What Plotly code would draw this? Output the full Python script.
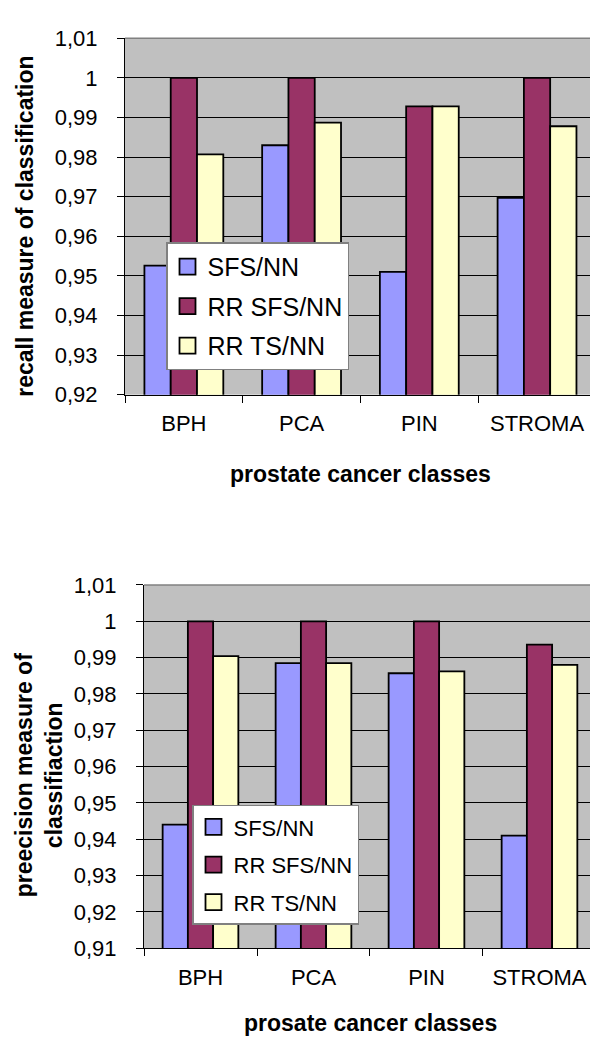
import plotly.graph_objects as go

categories = ["BPH", "PCA", "PIN", "STROMA"]
series_names = ["SFS/NN", "RR SFS/NN", "RR TS/NN"]
colors = ["#9999FF", "#993366", "#FFFFCC"]

recall_sfs = [0.9526, 0.983, 0.951, 0.9697]
recall_rr_sfs = [1.0, 1.0, 0.9928, 1.0]
recall_rr_ts = [0.9807, 0.9887, 0.9928, 0.9878]

prec_sfs = [0.944, 0.9885, 0.9857, 0.941]
prec_rr_sfs = [1.0, 1.0, 1.0, 0.9936]
prec_rr_ts = [0.9904, 0.9885, 0.9862, 0.988]

top_tickvals = [0.92, 0.93, 0.94, 0.95, 0.96, 0.97, 0.98, 0.99, 1.0, 1.01]
top_ticktext = ["0,92", "0,93", "0,94", "0,95", "0,96", "0,97", "0,98", "0,99", "1", "1,01"]
bot_tickvals = [0.91, 0.92, 0.93, 0.94, 0.95, 0.96, 0.97, 0.98, 0.99, 1.0, 1.01]
bot_ticktext = ["0,91", "0,92", "0,93", "0,94", "0,95", "0,96", "0,97", "0,98", "0,99", "1", "1,01"]

W, H = 590, 1048
FONT = "Liberation Sans, Arial, sans-serif"

fig = go.Figure()

top_series = [recall_sfs, recall_rr_sfs, recall_rr_ts]
bot_series = [prec_sfs, prec_rr_sfs, prec_rr_ts]

def add_panel(series, xa, ya, leg, tag):
    for i, (name, vals) in enumerate(zip(series_names, series)):
        fig.add_trace(go.Bar(
            x=categories, y=vals, name=name, xaxis=xa, yaxis=ya,
            marker=dict(color=colors[i], line=dict(color="black", width=1.8)),
            showlegend=False, hoverinfo="y",
        ))
    # legend entries with larger square swatches
    for i, name in enumerate(series_names):
        fig.add_trace(go.Scatter(
            x=[None], y=[None], name=name, xaxis=xa, yaxis=ya, mode="markers",
            marker=dict(symbol="square", size=16, color=colors[i],
                        line=dict(color="black", width=1.8)),
            legend=leg, legendgroup="%s%d" % (tag, i), showlegend=True,
        ))

add_panel(top_series, "x", "y", "legend", "t")
add_panel(bot_series, "x2", "y2", "legend2", "b")

def px_x(p):
    return p / W

def px_y(p):
    return 1 - p / H

axis_common = dict(
    showline=True, linecolor="black", linewidth=1,
    ticks="outside", ticklen=7, tickcolor="black",
    tickfont=dict(family=FONT, size=22, color="black"),
)

fig.update_layout(
    width=W, height=H,
    margin=dict(l=0, r=0, t=0, b=0),
    paper_bgcolor="white",
    plot_bgcolor="#C0C0C0",
    barmode="group",
    bargap=0.33,
    bargroupgap=0,
    font=dict(family=FONT, color="black"),
    xaxis=dict(
        domain=[px_x(125), 1], anchor="y", type="category", showgrid=False,
        range=[-0.5, 3.45], tickson="boundaries", ticklabelstandoff=9,
        **axis_common,
    ),
    yaxis=dict(
        domain=[px_y(392), px_y(27)], anchor="x",
        range=[0.92, 1.01], tickvals=top_tickvals, ticktext=top_ticktext,
        showgrid=True, gridcolor="black", gridwidth=1, ticklabelstandoff=15,
        **axis_common,
    ),
    xaxis2=dict(
        domain=[px_x(144), 1], anchor="y2", type="category", showgrid=False,
        range=[-0.5, 3.447], tickson="boundaries", ticklabelstandoff=9,
        **axis_common,
    ),
    yaxis2=dict(
        domain=[px_y(959), px_y(587)], anchor="x2",
        range=[0.91, 1.01], tickvals=bot_tickvals, ticktext=bot_ticktext,
        showgrid=True, gridcolor="black", gridwidth=1, ticklabelstandoff=15,
        **axis_common,
    ),
    legend=dict(
        x=px_x(166), y=px_y(236), xanchor="left", yanchor="top",
        bgcolor="white", bordercolor="#808080", borderwidth=1.5,
        font=dict(family=FONT, size=25, color="black"),
        tracegroupgap=4, traceorder="grouped", itemwidth=30,
    ),
    legend2=dict(
        x=px_x(192), y=px_y(812), xanchor="left", yanchor="top",
        bgcolor="white", bordercolor="#808080", borderwidth=1.5,
        font=dict(family=FONT, size=22, color="black"),
        tracegroupgap=6, traceorder="grouped", itemwidth=30,
    ),
    showlegend=True,
)

# gray top border of the plot areas
for xr, yr in (("x domain", "y domain"), ("x2 domain", "y2 domain")):
    fig.add_shape(type="line", xref=xr, yref=yr, x0=0, x1=1, y0=1, y1=1,
                  line=dict(color="#808080", width=1.5), layer="above")

title_font = dict(family=FONT, size=23, color="black", weight="bold")
fig.add_annotation(text="recall measure of classification", xref="paper", yref="paper",
                   x=px_x(25), y=px_y(220), textangle=-90, showarrow=False,
                   xanchor="center", yanchor="middle", font=title_font)
fig.add_annotation(text="preecision measure of<br>classifiaction", xref="paper", yref="paper",
                   x=px_x(39), y=px_y(782), textangle=-90, showarrow=False,
                   xanchor="center", yanchor="middle", font=title_font)
fig.add_annotation(text="prostate cancer classes", xref="paper", yref="paper",
                   x=px_x(360), y=px_y(473), showarrow=False,
                   xanchor="center", yanchor="middle", font=title_font)
fig.add_annotation(text="prosate cancer classes", xref="paper", yref="paper",
                   x=px_x(370), y=px_y(1036), showarrow=False,
                   xanchor="center", yanchor="middle", font=title_font)

fig.write_html("out.html", post_script="document.body.style.margin='0';document.body.style.overflow='hidden';")
